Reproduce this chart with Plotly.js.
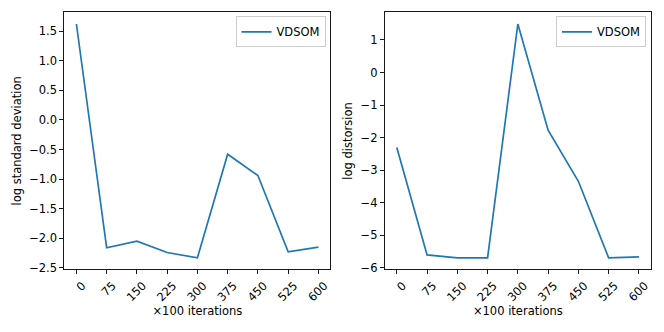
<!DOCTYPE html>
<html>
<head>
<meta charset="utf-8">
<script src="https://cdn.plot.ly/plotly-3.0.1.min.js"></script>
<style>
  html, body { margin: 0; padding: 0; background: #fff; }
  #chart { width: 664px; height: 332px; }
</style>
</head>
<body>
<div id="chart"></div>
<script>
// values
const iterations = [0, 75, 150, 225, 300, 375, 450, 525, 600];
const logStdDev = [1.62, -2.16, -2.05, -2.24, -2.33, -0.58, -0.94, -2.23, -2.15];
const logDistortion = [-2.30, -5.60, -5.69, -5.69, 1.49, -1.77, -3.34, -5.69, -5.66];
const seriesName = 'VDSOM';

const W = 664, H = 332;
const blue = '#1f77b4';
const font = 'DejaVu Sans, sans-serif';
const fs = 11.5;

// matplotlib style autoscale: 5% padding on both sides
const padded = (vals) => {
    const lo = Math.min(...vals), hi = Math.max(...vals);
    const p = (hi - lo) * 0.05;
    return [lo - p, hi + p];
};

const xAxisBase = (left, right) => ({
    domain: [left / W, right / W],
    range: padded(iterations),
    tickvals: iterations,
    ticktext: iterations.map(String),
    tickangle: -45,
    ticklabelshift: 6,
    ticks: 'outside', ticklen: 4, tickwidth: 0.9, tickcolor: '#000',
    showline: true, linecolor: '#000', linewidth: 0.9, mirror: true,
    showgrid: false, zeroline: false,
    tickfont: { family: font, size: fs, color: '#000' },
    title: { text: '×100 iterations', font: { family: font, size: fs, color: '#000' }, standoff: 3 }
});

const yAxisBase = (vals, dtick, fmt, label) => ({
    domain: [1 - 269.5 / H, 1 - 12.3 / H],
    range: padded(vals),
    dtick: dtick, tick0: 0, tickformat: fmt,
    ticks: 'outside', ticklen: 4, tickwidth: 0.9, tickcolor: '#000',
    showline: true, linecolor: '#000', linewidth: 0.9, mirror: true,
    showgrid: false, zeroline: false,
    tickfont: { family: font, size: fs, color: '#000' },
    title: { text: label, font: { family: font, size: fs, color: '#000' }, standoff: 5 }
});

const traces = [
    { x: iterations, y: logStdDev, xaxis: 'x', yaxis: 'y', mode: 'lines',
      line: { color: blue, width: 1.7 }, name: seriesName, legend: 'legend' },
    { x: iterations, y: logDistortion, xaxis: 'x2', yaxis: 'y2', mode: 'lines',
      line: { color: blue, width: 1.7 }, name: seriesName, legend: 'legend2' }
];

const legendBase = (right) => ({
    x: right / W, xanchor: 'right', xref: 'paper',
    y: 1 - 16.3 / H, yanchor: 'top', yref: 'paper',
    bgcolor: '#fff', bordercolor: '#cccccc', borderwidth: 1,
    font: { family: font, size: fs, color: '#000' },
    itemwidth: 30
});

const layout = {
    width: W, height: H,
    margin: { l: 0, r: 0, t: 0, b: 0 },
    paper_bgcolor: '#fff', plot_bgcolor: '#fff',
    showlegend: true,
    xaxis: xAxisBase(64.3, 330.5),
    yaxis: yAxisBase(logStdDev, 0.5, '.1f', 'log standard deviation'),
    xaxis2: Object.assign(xAxisBase(384.7, 651), { anchor: 'y2' }),
    yaxis2: Object.assign(yAxisBase(logDistortion, 1, 'd', 'log distorsion'), { anchor: 'x2' }),
    legend: legendBase(325.5),
    legend2: legendBase(646)
};
layout.xaxis.anchor = 'y';
layout.yaxis.anchor = 'x';

Plotly.newPlot('chart', traces, layout, { displayModeBar: false, staticPlot: true });
</script>
</body>
</html>
